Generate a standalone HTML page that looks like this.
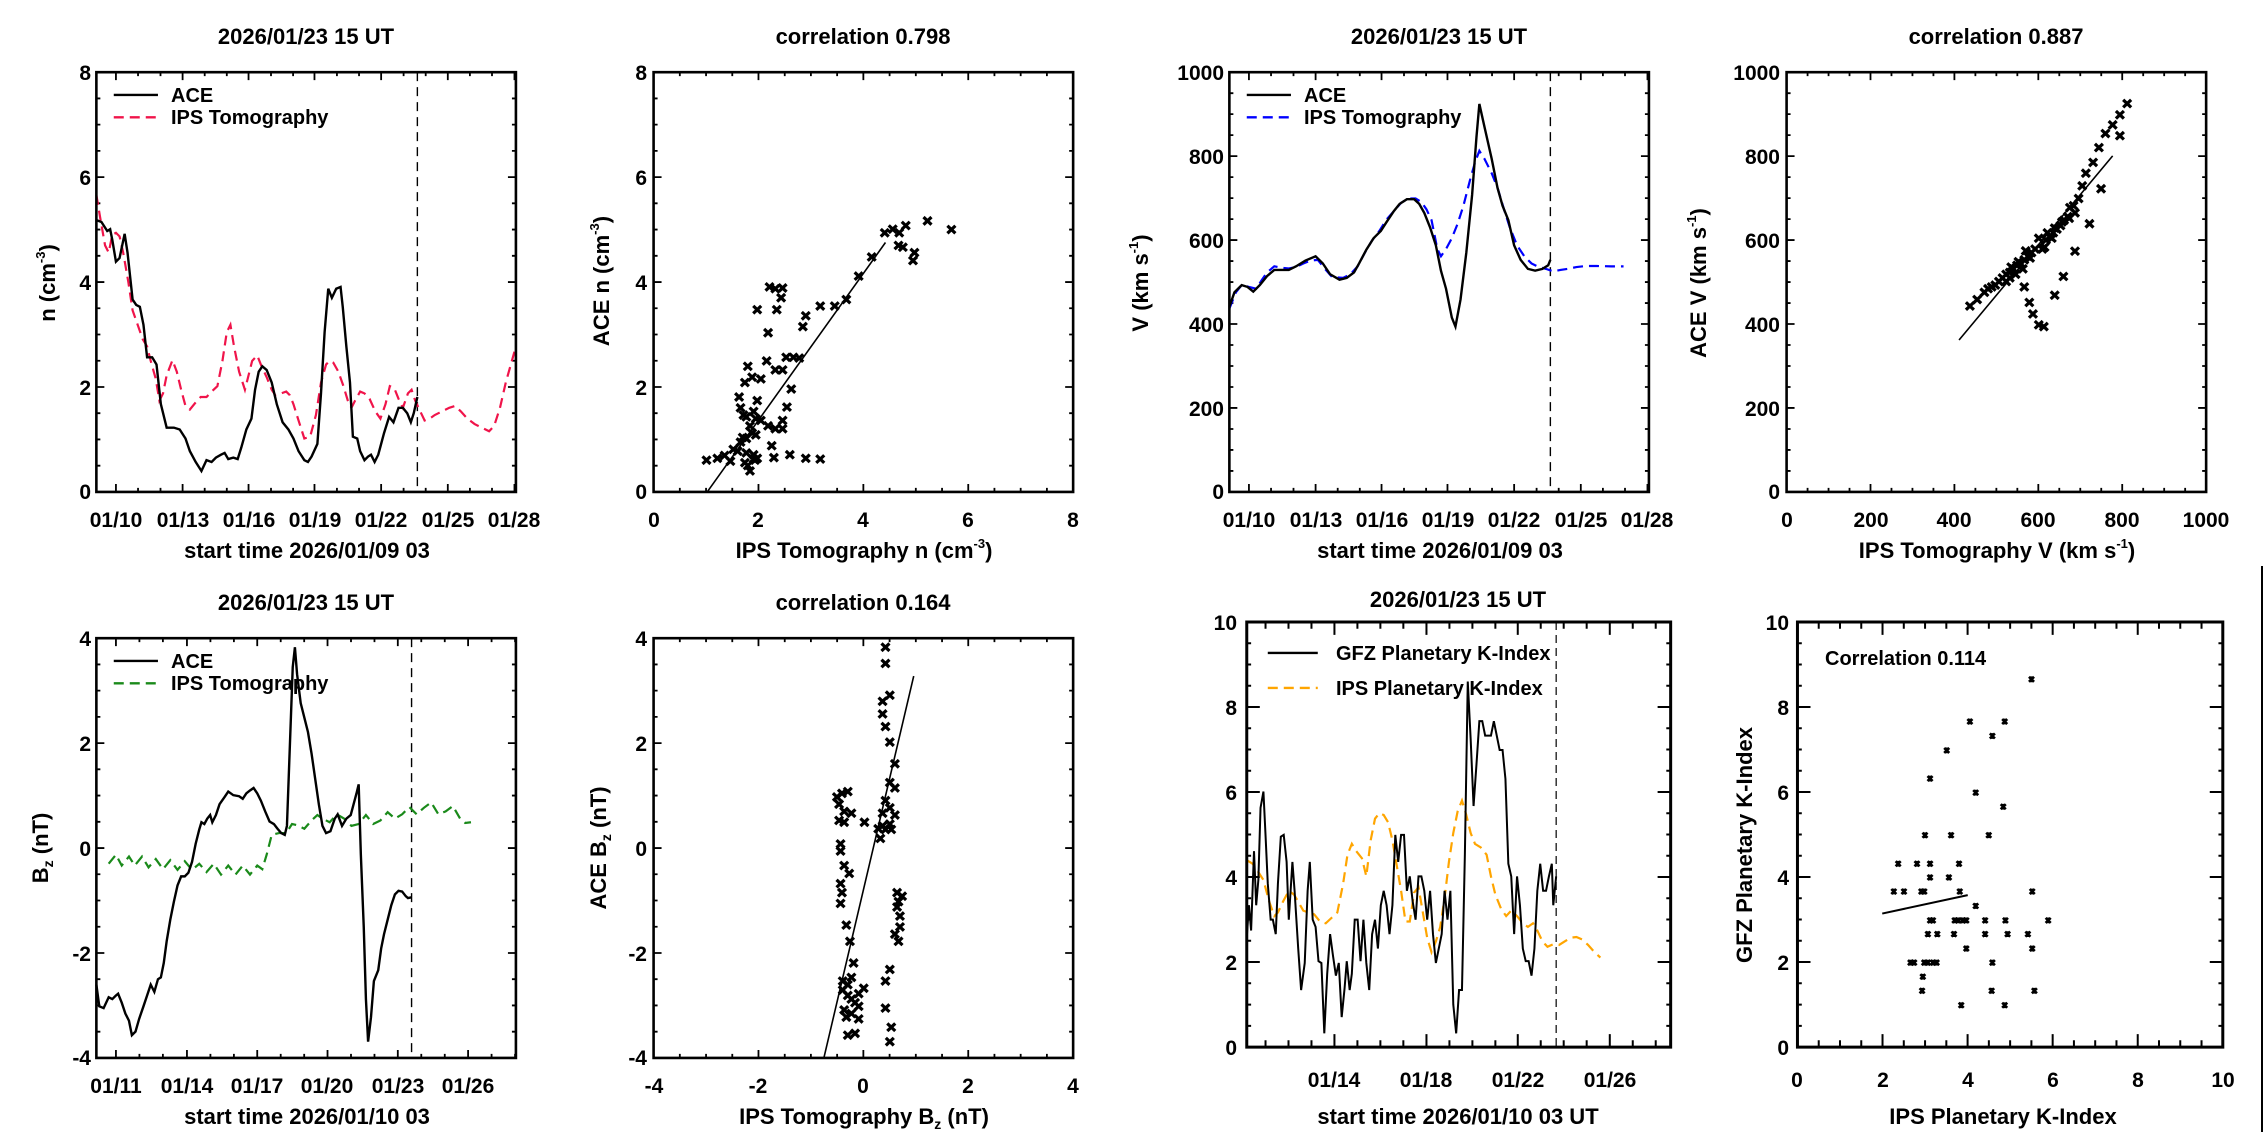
<!DOCTYPE html>
<html><head><meta charset="utf-8"><style>
html,body{margin:0;padding:0;background:#fff;}
svg{display:block;}
text{font-family:"Liberation Sans",Arial,sans-serif;font-weight:bold;fill:#000;}
.t{font-size:22px;text-anchor:middle;}
.tk{font-size:21px;text-anchor:middle;}
.yt{font-size:21px;text-anchor:end;}
.lg{font-size:20px;}
.yl{font-size:22px;text-anchor:middle;}
.ns{vector-effect:non-scaling-stroke;fill:none;}
</style></head><body>
<svg width="2266" height="1132" viewBox="0 0 2266 1132" xmlns="http://www.w3.org/2000/svg">
<defs>
<path id="m" d="M-5.5 -10.5L5.5 10.5M-5.5 10.5L5.5 -10.5M-3 0H3" class="ns" stroke="#000" stroke-width="3.2"/>
<path id="k" d="M-3.5 -7L3.5 7M-3.5 7L3.5 -7M0 -8V8" class="ns" stroke="#000" stroke-width="2.6"/>
</defs>

<!-- ============ Q1 (0,0) ============ -->
<g transform="translate(0,0) scale(0.7246,0.3609)">
 <path class="ns" stroke="#000" stroke-width="1.8" d="M160 1363v-22M252 1363v-22M343 1363v-22M434 1363v-22M526 1363v-22M618 1363v-22M710 1363v-22M160 200v22M252 200v22M343 200v22M434 200v22M526 200v22M618 200v22M710 200v22
 M190.5 1363v-11M221.5 1363v-11M282.5 1363v-11M313 1363v-11M374 1363v-11M404.5 1363v-11M465 1363v-11M495.5 1363v-11M557 1363v-11M587.5 1363v-11M648.5 1363v-11M679 1363v-11
 M190.5 200v11M221.5 200v11M282.5 200v11M313 200v11M374 200v11M404.5 200v11M465 200v11M495.5 200v11M557 200v11M587.5 200v11M648.5 200v11M679 200v11
 M133 490.8h11M133 781.5h11M133 1072.3h11M712 490.8h-11M712 781.5h-11M712 1072.3h-11
 M133 272.7h5.5M133 345.4h5.5M133 418.1h5.5M133 563.4h5.5M133 636.1h5.5M133 708.8h5.5M133 854.2h5.5M133 926.9h5.5M133 999.6h5.5M133 1144.9h5.5M133 1217.6h5.5M133 1290.3h5.5
 M712 272.7h-5.5M712 345.4h-5.5M712 418.1h-5.5M712 563.4h-5.5M712 636.1h-5.5M712 708.8h-5.5M712 854.2h-5.5M712 926.9h-5.5M712 999.6h-5.5M712 1144.9h-5.5M712 1217.6h-5.5M712 1290.3h-5.5"/>
 <path class="ns" stroke="#000" stroke-width="1.4" stroke-dasharray="9 6" d="M576 200V1363"/>
 <polyline class="ns" stroke="#f0144a" stroke-width="2.2" stroke-dasharray="10 6" points="133,540 138,600 145,680 150,700 155,650 160,645 165,655 170,700 177,780 183,860 190,900 197,940 203,960 208,1000 215,1050 220,1110 225,1090 230,1040 238,998 244,1030 250,1080 256,1125 262,1135 270,1115 277,1100 285,1100 292,1085 300,1070 307,1000 313,920 318,900 323,960 330,1030 338,1080 343,1040 348,1000 355,985 360,1010 368,1045 375,1080 380,1095 388,1090 395,1085 400,1095 405,1120 412,1165 420,1215 428,1210 436,1150 443,1060 450,1010 455,1000 460,1005 467,1030 474,1070 480,1110 485,1130 490,1110 497,1085 503,1090 510,1105 518,1140 525,1160 532,1120 538,1070 544,1075 550,1105 556,1130 563,1090 568,1080 573,1110 580,1140 586,1165 593,1160 600,1150 610,1140 620,1130 628,1125 636,1140 645,1160 655,1175 665,1185 675,1195 682,1180 690,1130 698,1060 705,1010 712,960"/>
 <polyline class="ns" stroke="#000" stroke-width="2.4" points="133,610 140,615 148,640 152,635 155,665 160,725 165,715 172,648 176,700 183,830 188,845 193,850 198,900 203,990 210,990 216,1010 222,1120 230,1185 240,1185 248,1190 256,1215 262,1250 270,1280 278,1305 285,1275 292,1280 298,1268 305,1260 310,1255 315,1272 322,1268 328,1272 333,1240 340,1190 347,1160 352,1080 357,1030 362,1015 368,1025 375,1060 382,1120 390,1170 398,1190 405,1215 412,1250 420,1275 425,1280 430,1265 438,1230 443,1090 448,920 453,800 458,825 464,800 470,795 473,850 478,960 483,1060 487,1210 493,1215 497,1250 503,1275 508,1265 512,1260 517,1280 522,1260 530,1200 537,1155 543,1170 550,1130 556,1130 562,1145 567,1170 571,1145 576,1100"/>
 <path class="ns" stroke="#000" stroke-width="2.4" d="M157 263H218"/>
 <path class="ns" stroke="#f0144a" stroke-width="2.4" stroke-dasharray="10 6" d="M157 325H218"/>
 <rect x="133" y="200" width="579" height="1163" class="ns" stroke="#000" stroke-width="2.6"/>

 <path class="ns" stroke="#000" stroke-width="1.8" d="M1046.75 1363v-22M1191.5 1363v-22M1336.25 1363v-22M1046.75 200v22M1191.5 200v22M1336.25 200v22
 M938.2 1363v-11M974.4 1363v-11M1010.6 1363v-11M1083 1363v-11M1119.1 1363v-11M1155.3 1363v-11M1227.7 1363v-11M1263.9 1363v-11M1300.1 1363v-11M1372.4 1363v-11M1408.6 1363v-11M1444.8 1363v-11
 M938.2 200v11M974.4 200v11M1010.6 200v11M1083 200v11M1119.1 200v11M1155.3 200v11M1227.7 200v11M1263.9 200v11M1300.1 200v11M1372.4 200v11M1408.6 200v11M1444.8 200v11
 M902 490.8h11M902 781.5h11M902 1072.3h11M1481 490.8h-11M1481 781.5h-11M1481 1072.3h-11
 M902 272.7h5.5M902 345.4h5.5M902 418.1h5.5M902 563.4h5.5M902 636.1h5.5M902 708.8h5.5M902 854.2h5.5M902 926.9h5.5M902 999.6h5.5M902 1144.9h5.5M902 1217.6h5.5M902 1290.3h5.5
 M1481 272.7h-5.5M1481 345.4h-5.5M1481 418.1h-5.5M1481 563.4h-5.5M1481 636.1h-5.5M1481 708.8h-5.5M1481 854.2h-5.5M1481 926.9h-5.5M1481 999.6h-5.5M1481 1144.9h-5.5M1481 1217.6h-5.5M1481 1290.3h-5.5"/>
 <path class="ns" stroke="#000" stroke-width="1.6" d="M976 1363L1222 672"/>
 <g>
 <use href="#m" x="1280" y="612"/><use href="#m" x="1313" y="636"/><use href="#m" x="1221" y="645"/><use href="#m" x="1232" y="635"/><use href="#m" x="1241" y="645"/><use href="#m" x="1250" y="625"/><use href="#m" x="1240" y="680"/><use href="#m" x="1246" y="685"/><use href="#m" x="1262" y="700"/><use href="#m" x="1260" y="722"/><use href="#m" x="1203" y="712"/><use href="#m" x="1185" y="765"/><use href="#m" x="1168" y="830"/><use href="#m" x="1152" y="848"/><use href="#m" x="1132" y="848"/><use href="#m" x="1112" y="875"/><use href="#m" x="1108" y="905"/><use href="#m" x="1062" y="795"/><use href="#m" x="1070" y="800"/><use href="#m" x="1080" y="798"/><use href="#m" x="1078" y="825"/><use href="#m" x="1045" y="858"/><use href="#m" x="1072" y="858"/><use href="#m" x="1060" y="922"/><use href="#m" x="1085" y="990"/><use href="#m" x="1095" y="990"/><use href="#m" x="1103" y="992"/><use href="#m" x="1058" y="1000"/><use href="#m" x="1070" y="1025"/><use href="#m" x="1080" y="1025"/><use href="#m" x="1032" y="1015"/><use href="#m" x="1038" y="1045"/><use href="#m" x="1050" y="1050"/><use href="#m" x="1028" y="1060"/><use href="#m" x="1092" y="1078"/><use href="#m" x="1045" y="1110"/><use href="#m" x="1020" y="1100"/><use href="#m" x="1022" y="1130"/><use href="#m" x="1026" y="1150"/><use href="#m" x="1030" y="1155"/><use href="#m" x="1040" y="1140"/><use href="#m" x="1043" y="1160"/><use href="#m" x="1050" y="1165"/><use href="#m" x="1080" y="1165"/><use href="#m" x="1086" y="1128"/><use href="#m" x="1035" y="1180"/><use href="#m" x="1060" y="1180"/><use href="#m" x="1070" y="1188"/><use href="#m" x="1080" y="1188"/><use href="#m" x="1038" y="1200"/><use href="#m" x="1043" y="1205"/><use href="#m" x="1025" y="1212"/><use href="#m" x="1030" y="1215"/><use href="#m" x="1022" y="1225"/><use href="#m" x="1065" y="1235"/><use href="#m" x="1012" y="1245"/><use href="#m" x="1018" y="1250"/><use href="#m" x="1030" y="1255"/><use href="#m" x="1040" y="1260"/><use href="#m" x="1045" y="1270"/><use href="#m" x="1000" y="1262"/><use href="#m" x="990" y="1270"/><use href="#m" x="975" y="1275"/><use href="#m" x="1008" y="1278"/><use href="#m" x="1028" y="1282"/><use href="#m" x="1035" y="1305"/><use href="#m" x="1040" y="1272"/><use href="#m" x="1068" y="1268"/><use href="#m" x="1090" y="1260"/><use href="#m" x="1112" y="1270"/><use href="#m" x="1132" y="1272"/><use href="#m" x="1032" y="1290"/><use href="#m" x="1042" y="1275"/>
 </g>
 <rect x="902" y="200" width="579" height="1163" class="ns" stroke="#000" stroke-width="2.6"/>
</g>

<!-- ============ Q3 (1133,0) ============ -->
<g transform="translate(1133,0) scale(0.7246,0.3609)">
 <path class="ns" stroke="#000" stroke-width="1.8" d="M160 1363v-22M252 1363v-22M343 1363v-22M434 1363v-22M526 1363v-22M618 1363v-22M710 1363v-22M160 200v22M252 200v22M343 200v22M434 200v22M526 200v22M618 200v22M710 200v22
 M190.5 1363v-11M221.5 1363v-11M282.5 1363v-11M313 1363v-11M374 1363v-11M404.5 1363v-11M465 1363v-11M495.5 1363v-11M557 1363v-11M587.5 1363v-11M648.5 1363v-11M679 1363v-11
 M190.5 200v11M221.5 200v11M282.5 200v11M313 200v11M374 200v11M404.5 200v11M465 200v11M495.5 200v11M557 200v11M587.5 200v11M648.5 200v11M679 200v11
 M133 432.6h11M133 665.2h11M133 897.8h11M133 1130.4h11M712 432.6h-11M712 665.2h-11M712 897.8h-11M712 1130.4h-11
 M133 258.2h5.5M133 316.3h5.5M133 374.5h5.5M133 490.8h5.5M133 548.9h5.5M133 607.1h5.5M133 723.4h5.5M133 781.5h5.5M133 839.7h5.5M133 956h5.5M133 1014.1h5.5M133 1072.3h5.5M133 1188.6h5.5M133 1246.7h5.5M133 1304.9h5.5
 M712 258.2h-5.5M712 316.3h-5.5M712 374.5h-5.5M712 490.8h-5.5M712 548.9h-5.5M712 607.1h-5.5M712 723.4h-5.5M712 781.5h-5.5M712 839.7h-5.5M712 956h-5.5M712 1014.1h-5.5M712 1072.3h-5.5M712 1188.6h-5.5M712 1246.7h-5.5M712 1304.9h-5.5"/>
 <path class="ns" stroke="#000" stroke-width="1.4" stroke-dasharray="9 6" d="M576 200V1363"/>
 <polyline class="ns" stroke="#0000ff" stroke-width="2.2" stroke-dasharray="10 6" points="133,855 142,810 150,790 160,795 170,800 178,775 185,755 195,738 205,742 215,744 225,740 235,730 245,722 255,720 265,745 275,768 290,770 300,760 310,738 320,700 330,666 340,640 350,608 360,585 370,562 380,550 390,550 398,560 405,580 412,610 420,690 425,710 432,690 440,660 448,620 456,570 465,500 472,450 478,418 485,440 495,480 503,520 512,580 520,630 530,680 540,710 550,730 560,740 570,745 580,752 590,748 600,745 612,740 625,737 640,737 660,738 677,738"/>
 <polyline class="ns" stroke="#000" stroke-width="2.4" points="133,850 140,810 150,790 158,795 166,808 175,790 185,765 195,748 205,748 215,748 225,738 238,722 252,710 262,730 272,760 285,775 295,770 305,755 312,730 322,692 332,660 342,640 350,615 360,585 368,565 378,552 388,552 395,565 402,590 410,630 418,680 425,750 432,800 440,880 445,905 452,830 460,700 468,540 474,380 478,288 486,360 495,440 503,520 510,570 518,610 526,680 535,720 545,745 555,750 565,745 573,735 576,720"/>
 <path class="ns" stroke="#000" stroke-width="2.4" d="M157 263H218"/>
 <path class="ns" stroke="#0000ff" stroke-width="2.4" stroke-dasharray="10 6" d="M157 325H218"/>
 <rect x="133" y="200" width="579" height="1163" class="ns" stroke="#000" stroke-width="2.6"/>

 <path class="ns" stroke="#000" stroke-width="1.8" d="M1017.8 1363v-22M1133.6 1363v-22M1249.4 1363v-22M1365.2 1363v-22M1017.8 200v22M1133.6 200v22M1249.4 200v22M1365.2 200v22
 M930.95 1363v-11M959.9 1363v-11M988.85 1363v-11M1046.75 1363v-11M1075.7 1363v-11M1104.65 1363v-11M1162.55 1363v-11M1191.5 1363v-11M1220.45 1363v-11M1278.35 1363v-11M1307.3 1363v-11M1336.25 1363v-11M1394.15 1363v-11M1423.1 1363v-11M1452.05 1363v-11
 M930.95 200v11M959.9 200v11M988.85 200v11M1046.75 200v11M1075.7 200v11M1104.65 200v11M1162.55 200v11M1191.5 200v11M1220.45 200v11M1278.35 200v11M1307.3 200v11M1336.25 200v11M1394.15 200v11M1423.1 200v11M1452.05 200v11
 M902 432.6h11M902 665.2h11M902 897.8h11M902 1130.4h11M1481 432.6h-11M1481 665.2h-11M1481 897.8h-11M1481 1130.4h-11
 M902 258.2h5.5M902 316.3h5.5M902 374.5h5.5M902 490.8h5.5M902 548.9h5.5M902 607.1h5.5M902 723.4h5.5M902 781.5h5.5M902 839.7h5.5M902 956h5.5M902 1014.1h5.5M902 1072.3h5.5M902 1188.6h5.5M902 1246.7h5.5M902 1304.9h5.5
 M1481 258.2h-5.5M1481 316.3h-5.5M1481 374.5h-5.5M1481 490.8h-5.5M1481 548.9h-5.5M1481 607.1h-5.5M1481 723.4h-5.5M1481 781.5h-5.5M1481 839.7h-5.5M1481 956h-5.5M1481 1014.1h-5.5M1481 1072.3h-5.5M1481 1188.6h-5.5M1481 1246.7h-5.5M1481 1304.9h-5.5"/>
 <path class="ns" stroke="#000" stroke-width="1.6" d="M1140 942L1352 432"/>
 <g>
 <use href="#m" x="1372" y="287"/><use href="#m" x="1362" y="318"/><use href="#m" x="1352" y="346"/><use href="#m" x="1362" y="376"/><use href="#m" x="1342" y="370"/><use href="#m" x="1333" y="409"/><use href="#m" x="1325" y="450"/><use href="#m" x="1315" y="480"/><use href="#m" x="1310" y="515"/><use href="#m" x="1336" y="523"/><use href="#m" x="1305" y="550"/><use href="#m" x="1298" y="570"/><use href="#m" x="1300" y="590"/><use href="#m" x="1293" y="575"/><use href="#m" x="1290" y="600"/><use href="#m" x="1285" y="610"/><use href="#m" x="1280" y="625"/><use href="#m" x="1275" y="635"/><use href="#m" x="1270" y="645"/><use href="#m" x="1265" y="655"/><use href="#m" x="1260" y="665"/><use href="#m" x="1250" y="660"/><use href="#m" x="1255" y="690"/><use href="#m" x="1245" y="690"/><use href="#m" x="1240" y="700"/><use href="#m" x="1235" y="710"/><use href="#m" x="1230" y="720"/><use href="#m" x="1225" y="730"/><use href="#m" x="1220" y="735"/><use href="#m" x="1215" y="745"/><use href="#m" x="1210" y="755"/><use href="#m" x="1205" y="760"/><use href="#m" x="1200" y="770"/><use href="#m" x="1195" y="780"/><use href="#m" x="1190" y="790"/><use href="#m" x="1185" y="795"/><use href="#m" x="1180" y="800"/><use href="#m" x="1175" y="810"/><use href="#m" x="1165" y="830"/><use href="#m" x="1155" y="848"/><use href="#m" x="1320" y="620"/><use href="#m" x="1300" y="696"/><use href="#m" x="1284" y="766"/><use href="#m" x="1272" y="818"/><use href="#m" x="1230" y="795"/><use href="#m" x="1237" y="838"/><use href="#m" x="1242" y="870"/><use href="#m" x="1250" y="900"/><use href="#m" x="1257" y="905"/><use href="#m" x="1238" y="715"/><use href="#m" x="1228" y="745"/><use href="#m" x="1218" y="760"/><use href="#m" x="1212" y="740"/><use href="#m" x="1222" y="725"/><use href="#m" x="1232" y="695"/><use href="#m" x="1262" y="645"/><use href="#m" x="1272" y="632"/><use href="#m" x="1282" y="615"/><use href="#m" x="1292" y="605"/><use href="#m" x="1268" y="660"/><use href="#m" x="1258" y="685"/><use href="#m" x="1205" y="780"/><use href="#m" x="1210" y="770"/>
 </g>
 <rect x="902" y="200" width="579" height="1163" class="ns" stroke="#000" stroke-width="2.6"/>
</g>

<!-- ============ Q4 (0,566) ============ -->
<g transform="translate(0,566) scale(0.7246,0.3609)">
 <path class="ns" stroke="#000" stroke-width="1.8" d="M160 1363v-22M258 1363v-22M355 1363v-22M452 1363v-22M549 1363v-22M646 1363v-22M160 200v22M258 200v22M355 200v22M452 200v22M549 200v22M646 200v22
 M192.4 1363v-11M224.8 1363v-11M290.4 1363v-11M322.8 1363v-11M387.4 1363v-11M419.8 1363v-11M484.4 1363v-11M516.8 1363v-11M581.4 1363v-11M613.8 1363v-11M678.4 1363v-11M710.8 1363v-11
 M192.4 200v11M224.8 200v11M290.4 200v11M322.8 200v11M387.4 200v11M419.8 200v11M484.4 200v11M516.8 200v11M581.4 200v11M613.8 200v11M678.4 200v11M710.8 200v11
 M133 490.8h11M133 781.5h11M133 1072.3h11M712 490.8h-11M712 781.5h-11M712 1072.3h-11
 M133 272.7h5.5M133 345.4h5.5M133 418.1h5.5M133 563.4h5.5M133 636.1h5.5M133 708.8h5.5M133 854.2h5.5M133 926.9h5.5M133 999.6h5.5M133 1144.9h5.5M133 1217.6h5.5M133 1290.3h5.5
 M712 272.7h-5.5M712 345.4h-5.5M712 418.1h-5.5M712 563.4h-5.5M712 636.1h-5.5M712 708.8h-5.5M712 854.2h-5.5M712 926.9h-5.5M712 999.6h-5.5M712 1144.9h-5.5M712 1217.6h-5.5M712 1290.3h-5.5"/>
 <path class="ns" stroke="#000" stroke-width="1.4" stroke-dasharray="9 6" d="M568 200V1363"/>
 <polyline class="ns" stroke="#1a8a1a" stroke-width="2.2" stroke-dasharray="10 6" points="150,825 160,800 168,830 178,805 186,830 196,805 205,835 215,812 225,840 235,815 245,842 255,818 265,842 275,825 285,848 295,825 305,855 315,830 325,855 335,830 345,855 355,830 362,840 368,800 375,745 385,740 395,740 403,715 410,718 420,728 430,705 438,690 445,700 455,710 465,688 475,700 485,720 495,715 505,690 515,715 525,705 535,682 545,700 555,688 565,668 575,688 585,670 595,655 605,688 615,680 625,665 635,700 642,712 650,710"/>
 <polyline class="ns" stroke="#000" stroke-width="2.4" points="133,1160 137,1220 143,1225 150,1195 155,1200 160,1190 163,1185 168,1210 173,1240 178,1260 182,1300 187,1290 192,1255 198,1220 203,1190 208,1160 213,1180 218,1145 222,1140 226,1100 230,1040 235,980 240,930 245,885 250,860 255,860 260,850 265,820 270,770 275,730 278,710 282,715 286,700 290,690 293,710 298,690 303,660 310,640 315,625 322,635 330,638 335,645 340,630 345,622 350,615 355,630 360,650 366,680 372,708 378,715 383,728 388,740 393,745 396,720 400,500 404,280 407,225 410,300 415,380 420,420 425,460 430,520 435,590 440,660 445,720 450,740 456,735 462,700 466,688 472,720 478,700 484,690 488,660 492,630 495,605 498,800 502,1000 505,1200 508,1318 512,1250 516,1150 522,1120 526,1060 530,1020 535,980 540,940 545,910 550,900 555,902 560,915 563,920 568,918"/>
 <path class="ns" stroke="#000" stroke-width="2.4" d="M157 263H218"/>
 <path class="ns" stroke="#1a8a1a" stroke-width="2.4" stroke-dasharray="10 6" d="M157 325H218"/>
 <rect x="133" y="200" width="579" height="1163" class="ns" stroke="#000" stroke-width="2.6"/>

 <path class="ns" stroke="#000" stroke-width="1.8" d="M1046.75 1363v-22M1191.5 1363v-22M1336.25 1363v-22M1046.75 200v22M1191.5 200v22M1336.25 200v22
 M938.2 1363v-11M974.4 1363v-11M1010.6 1363v-11M1083 1363v-11M1119.1 1363v-11M1155.3 1363v-11M1227.7 1363v-11M1263.9 1363v-11M1300.1 1363v-11M1372.4 1363v-11M1408.6 1363v-11M1444.8 1363v-11
 M938.2 200v11M974.4 200v11M1010.6 200v11M1083 200v11M1119.1 200v11M1155.3 200v11M1227.7 200v11M1263.9 200v11M1300.1 200v11M1372.4 200v11M1408.6 200v11M1444.8 200v11
 M902 490.8h11M902 781.5h11M902 1072.3h11M1481 490.8h-11M1481 781.5h-11M1481 1072.3h-11
 M902 272.7h5.5M902 345.4h5.5M902 418.1h5.5M902 563.4h5.5M902 636.1h5.5M902 708.8h5.5M902 854.2h5.5M902 926.9h5.5M902 999.6h5.5M902 1144.9h5.5M902 1217.6h5.5M902 1290.3h5.5
 M1481 272.7h-5.5M1481 345.4h-5.5M1481 418.1h-5.5M1481 563.4h-5.5M1481 636.1h-5.5M1481 708.8h-5.5M1481 854.2h-5.5M1481 926.9h-5.5M1481 999.6h-5.5M1481 1144.9h-5.5M1481 1217.6h-5.5M1481 1290.3h-5.5"/>
 <path class="ns" stroke="#000" stroke-width="1.6" d="M1137 1363L1261 305"/>
 <g>
 <use href="#m" x="1222" y="225"/><use href="#m" x="1222" y="270"/><use href="#m" x="1228" y="358"/><use href="#m" x="1218" y="375"/><use href="#m" x="1218" y="410"/><use href="#m" x="1222" y="445"/><use href="#m" x="1228" y="488"/><use href="#m" x="1235" y="548"/><use href="#m" x="1228" y="600"/><use href="#m" x="1235" y="615"/><use href="#m" x="1222" y="650"/><use href="#m" x="1228" y="670"/><use href="#m" x="1218" y="685"/><use href="#m" x="1235" y="690"/><use href="#m" x="1228" y="715"/><use href="#m" x="1218" y="720"/><use href="#m" x="1212" y="728"/><use href="#m" x="1222" y="730"/><use href="#m" x="1230" y="730"/><use href="#m" x="1215" y="755"/><use href="#m" x="1193" y="710"/><use href="#m" x="1155" y="640"/><use href="#m" x="1162" y="630"/><use href="#m" x="1170" y="625"/><use href="#m" x="1158" y="660"/><use href="#m" x="1165" y="680"/><use href="#m" x="1158" y="705"/><use href="#m" x="1175" y="685"/><use href="#m" x="1165" y="710"/><use href="#m" x="1160" y="770"/><use href="#m" x="1160" y="790"/><use href="#m" x="1165" y="830"/><use href="#m" x="1172" y="852"/><use href="#m" x="1160" y="880"/><use href="#m" x="1162" y="905"/><use href="#m" x="1160" y="935"/><use href="#m" x="1168" y="995"/><use href="#m" x="1173" y="1040"/><use href="#m" x="1238" y="905"/><use href="#m" x="1245" y="915"/><use href="#m" x="1240" y="930"/><use href="#m" x="1238" y="945"/><use href="#m" x="1242" y="970"/><use href="#m" x="1242" y="1000"/><use href="#m" x="1235" y="1020"/><use href="#m" x="1240" y="1040"/><use href="#m" x="1178" y="1100"/><use href="#m" x="1175" y="1140"/><use href="#m" x="1163" y="1150"/><use href="#m" x="1170" y="1160"/><use href="#m" x="1163" y="1175"/><use href="#m" x="1170" y="1190"/><use href="#m" x="1185" y="1185"/><use href="#m" x="1175" y="1200"/><use href="#m" x="1180" y="1210"/><use href="#m" x="1185" y="1220"/><use href="#m" x="1192" y="1170"/><use href="#m" x="1165" y="1230"/><use href="#m" x="1175" y="1240"/><use href="#m" x="1185" y="1255"/><use href="#m" x="1170" y="1300"/><use href="#m" x="1180" y="1295"/><use href="#m" x="1228" y="1118"/><use href="#m" x="1222" y="1150"/><use href="#m" x="1222" y="1225"/><use href="#m" x="1230" y="1278"/><use href="#m" x="1228" y="1318"/><use href="#m" x="1168" y="1250"/>
 </g>
 <rect x="902" y="200" width="579" height="1163" class="ns" stroke="#000" stroke-width="2.6"/>
</g>

<!-- ============ Q2 (1133,566) ============ -->
<g transform="translate(1133,566) scale(0.7246,0.3609)">
 <path class="ns" stroke="#000" stroke-width="2" d="M278 1333v-36M405 1333v-36M531 1333v-36M658 1333v-36M278 155v36M405 155v36M531 155v36M658 155v36
 M182.9 1333v-19M214.6 1333v-19M246.3 1333v-19M309.7 1333v-19M341.4 1333v-19M373.1 1333v-19M436.7 1333v-19M468.4 1333v-19M500.1 1333v-19M562.7 1333v-19M594.4 1333v-19M626.1 1333v-19M689.7 1333v-19M721.4 1333v-19
 M182.9 155v19M214.6 155v19M246.3 155v19M309.7 155v19M341.4 155v19M373.1 155v19M436.7 155v19M468.4 155v19M500.1 155v19M562.7 155v19M594.4 155v19M626.1 155v19M689.7 155v19M721.4 155v19
 M157 390.6h18M157 626.2h18M157 861.8h18M157 1097.4h18M742 390.6h-18M742 626.2h-18M742 861.8h-18M742 1097.4h-18
 M157 213.9h6M157 272.8h6M157 331.7h6M157 449.5h6M157 508.4h6M157 567.3h6M157 685.1h6M157 744h6M157 802.9h6M157 920.7h6M157 979.6h6M157 1038.5h6M157 1156.3h6M157 1215.2h6M157 1274.1h6
 M742 213.9h-6M742 272.8h-6M742 331.7h-6M742 449.5h-6M742 508.4h-6M742 567.3h-6M742 685.1h-6M742 744h-6M742 802.9h-6M742 920.7h-6M742 979.6h-6M742 1038.5h-6M742 1156.3h-6M742 1215.2h-6M742 1274.1h-6"/>
 <path class="ns" stroke="#000" stroke-width="1.2" stroke-dasharray="8 5" d="M584 155V1333"/>
 <polyline class="ns" stroke="#ffa500" stroke-width="2.2" stroke-dasharray="10 6" points="157,815 165,825 172,845 180,870 188,930 195,970 200,960 207,930 215,900 222,910 228,930 235,955 242,960 250,965 258,985 266,990 274,975 282,960 290,880 296,800 302,770 308,790 316,810 322,860 328,760 334,700 340,685 346,690 352,710 358,760 364,830 370,900 376,985 382,985 388,905 394,890 400,960 406,1030 412,1070 418,1040 424,1000 430,920 436,820 442,740 448,680 454,650 460,690 466,740 472,770 480,780 488,800 494,860 500,910 508,950 515,970 522,955 530,970 538,990 545,1000 552,990 558,1010 565,1040 572,1055 580,1048 588,1050 596,1040 604,1030 612,1028 620,1035 628,1050 636,1068 645,1085"/>
 <polyline class="ns" stroke="#000" stroke-width="2" points="157,1030 160,940 163,1010 167,790 170,940 173,870 176,670 180,625 183,750 186,880 190,980 193,980 197,1020 200,880 204,750 208,745 212,820 215,980 220,820 223,900 228,1060 232,1175 237,1100 241,900 244,820 248,980 252,1000 256,1095 260,1100 264,1295 268,1130 272,1020 276,1080 280,1135 284,1100 288,1250 292,1170 295,1095 299,1175 302,1130 306,980 310,980 314,1095 318,980 322,1100 326,1175 330,1020 334,980 338,1060 342,940 346,900 350,940 354,1020 358,940 362,745 366,820 370,745 374,745 378,900 382,860 386,930 390,980 394,860 398,860 402,900 406,980 410,900 414,1020 418,1100 422,1060 426,1020 430,900 434,980 438,900 442,1215 446,1295 450,1175 454,1175 458,800 462,320 466,480 470,665 474,550 478,430 482,430 486,470 490,470 494,470 498,430 502,470 506,510 510,510 514,590 518,825 522,860 526,1020 530,860 534,940 538,1060 542,1095 546,1095 550,1135 554,1060 558,900 562,825 566,900 570,900 574,860 578,825 580,940 584,860"/>
 <path class="ns" stroke="#000" stroke-width="2.4" d="M186 241H255"/>
 <path class="ns" stroke="#ffa500" stroke-width="2.4" stroke-dasharray="10 6" d="M186 338H255"/>
 <rect x="157" y="155" width="585" height="1178" class="ns" stroke="#000" stroke-width="3"/>

 <path class="ns" stroke="#000" stroke-width="2" d="M1034.4 1333v-36M1151.8 1333v-36M1269.2 1333v-36M1386.6 1333v-36M1034.4 155v36M1151.8 155v36M1269.2 155v36M1386.6 155v36
 M946.35 1333v-19M975.7 1333v-19M1005.05 1333v-19M1063.75 1333v-19M1093.1 1333v-19M1122.45 1333v-19M1181.15 1333v-19M1210.5 1333v-19M1239.85 1333v-19M1298.55 1333v-19M1327.9 1333v-19M1357.25 1333v-19M1415.95 1333v-19M1445.3 1333v-19M1474.65 1333v-19
 M946.35 155v19M975.7 155v19M1005.05 155v19M1063.75 155v19M1093.1 155v19M1122.45 155v19M1181.15 155v19M1210.5 155v19M1239.85 155v19M1298.55 155v19M1327.9 155v19M1357.25 155v19M1415.95 155v19M1445.3 155v19M1474.65 155v19
 M917 390.6h18M917 626.2h18M917 861.8h18M917 1097.4h18M1504 390.6h-18M1504 626.2h-18M1504 861.8h-18M1504 1097.4h-18
 M917 213.9h6M917 272.8h6M917 331.7h6M917 449.5h6M917 508.4h6M917 567.3h6M917 685.1h6M917 744h6M917 802.9h6M917 920.7h6M917 979.6h6M917 1038.5h6M917 1156.3h6M917 1215.2h6M917 1274.1h6
 M1504 213.9h-6M1504 272.8h-6M1504 331.7h-6M1504 449.5h-6M1504 508.4h-6M1504 567.3h-6M1504 685.1h-6M1504 744h-6M1504 802.9h-6M1504 920.7h-6M1504 979.6h-6M1504 1038.5h-6M1504 1156.3h-6M1504 1215.2h-6M1504 1274.1h-6"/>
 <path class="ns" stroke="#000" stroke-width="2" d="M1034 963L1152 912"/>
 <g>
 <use href="#k" x="1240" y="314"/><use href="#k" x="1155" y="431"/><use href="#k" x="1203" y="431"/><use href="#k" x="1186" y="471"/><use href="#k" x="1123" y="511"/><use href="#k" x="1100" y="589"/><use href="#k" x="1163" y="628"/><use href="#k" x="1201" y="667"/><use href="#k" x="1093" y="746"/><use href="#k" x="1129" y="746"/><use href="#k" x="1181" y="746"/><use href="#k" x="1056" y="825"/><use href="#k" x="1082" y="825"/><use href="#k" x="1100" y="825"/><use href="#k" x="1140" y="825"/><use href="#k" x="1100" y="863"/><use href="#k" x="1126" y="863"/><use href="#k" x="1050" y="902"/><use href="#k" x="1064" y="902"/><use href="#k" x="1088" y="902"/><use href="#k" x="1092" y="902"/><use href="#k" x="1141" y="902"/><use href="#k" x="1241" y="902"/><use href="#k" x="1163" y="942"/><use href="#k" x="1100" y="982"/><use href="#k" x="1104" y="982"/><use href="#k" x="1134" y="982"/><use href="#k" x="1139" y="982"/><use href="#k" x="1145" y="982"/><use href="#k" x="1150" y="982"/><use href="#k" x="1176" y="982"/><use href="#k" x="1204" y="982"/><use href="#k" x="1263" y="982"/><use href="#k" x="1097" y="1020"/><use href="#k" x="1110" y="1020"/><use href="#k" x="1133" y="1020"/><use href="#k" x="1176" y="1020"/><use href="#k" x="1207" y="1020"/><use href="#k" x="1235" y="1020"/><use href="#k" x="1150" y="1060"/><use href="#k" x="1241" y="1060"/><use href="#k" x="1073" y="1099"/><use href="#k" x="1078" y="1099"/><use href="#k" x="1092" y="1099"/><use href="#k" x="1097" y="1099"/><use href="#k" x="1104" y="1099"/><use href="#k" x="1109" y="1099"/><use href="#k" x="1186" y="1099"/><use href="#k" x="1090" y="1138"/><use href="#k" x="1089" y="1177"/><use href="#k" x="1185" y="1177"/><use href="#k" x="1244" y="1177"/><use href="#k" x="1143" y="1217"/><use href="#k" x="1203" y="1217"/>
 </g>
 <rect x="917" y="155" width="587" height="1178" class="ns" stroke="#000" stroke-width="3"/>
</g>
<path d="M2262 566V1132" stroke="#000" stroke-width="2"/>

<!-- ============ TEXT ============ -->
<text class="t" x="306" y="44">2026/01/23 15 UT</text>
<text class="t" x="863" y="44">correlation 0.798</text>
<text class="t" x="1439" y="44">2026/01/23 15 UT</text>
<text class="t" x="1996" y="44">correlation 0.887</text>
<text class="t" x="306" y="610">2026/01/23 15 UT</text>
<text class="t" x="863" y="610">correlation 0.164</text>
<text class="t" x="1458" y="607">2026/01/23 15 UT</text>

<text class="lg" x="171" y="102">ACE</text>
<text class="lg" x="171" y="124">IPS Tomography</text>
<text class="lg" x="1304" y="102">ACE</text>
<text class="lg" x="1304" y="124">IPS Tomography</text>
<text class="lg" x="171" y="668">ACE</text>
<text class="lg" x="171" y="690">IPS Tomography</text>
<text class="lg" x="1336" y="660">GFZ Planetary K-Index</text>
<text class="lg" x="1336" y="695">IPS Planetary K-Index</text>
<text class="lg" x="1825" y="665">Correlation 0.114</text>

<text class="tk" x="116" y="527">01/10</text><text class="tk" x="183" y="527">01/13</text><text class="tk" x="249" y="527">01/16</text><text class="tk" x="315" y="527">01/19</text><text class="tk" x="381" y="527">01/22</text><text class="tk" x="448" y="527">01/25</text><text class="tk" x="514" y="527">01/28</text>
<text class="tk" x="654" y="527">0</text><text class="tk" x="758" y="527">2</text><text class="tk" x="863" y="527">4</text><text class="tk" x="968" y="527">6</text><text class="tk" x="1073" y="527">8</text>
<text class="tk" x="1249" y="527">01/10</text><text class="tk" x="1316" y="527">01/13</text><text class="tk" x="1382" y="527">01/16</text><text class="tk" x="1448" y="527">01/19</text><text class="tk" x="1514" y="527">01/22</text><text class="tk" x="1581" y="527">01/25</text><text class="tk" x="1647" y="527">01/28</text>
<text class="tk" x="1787" y="527">0</text><text class="tk" x="1871" y="527">200</text><text class="tk" x="1954" y="527">400</text><text class="tk" x="2038" y="527">600</text><text class="tk" x="2122" y="527">800</text><text class="tk" x="2206" y="527">1000</text>
<text class="tk" x="116" y="1093">01/11</text><text class="tk" x="187" y="1093">01/14</text><text class="tk" x="257" y="1093">01/17</text><text class="tk" x="327" y="1093">01/20</text><text class="tk" x="398" y="1093">01/23</text><text class="tk" x="468" y="1093">01/26</text>
<text class="tk" x="654" y="1093">-4</text><text class="tk" x="758" y="1093">-2</text><text class="tk" x="863" y="1093">0</text><text class="tk" x="968" y="1093">2</text><text class="tk" x="1073" y="1093">4</text>
<text class="tk" x="1334" y="1087">01/14</text><text class="tk" x="1426" y="1087">01/18</text><text class="tk" x="1518" y="1087">01/22</text><text class="tk" x="1610" y="1087">01/26</text>
<text class="tk" x="1797" y="1087">0</text><text class="tk" x="1883" y="1087">2</text><text class="tk" x="1968" y="1087">4</text><text class="tk" x="2053" y="1087">6</text><text class="tk" x="2138" y="1087">8</text><text class="tk" x="2223" y="1087">10</text>

<text class="yt" x="91" y="80">8</text><text class="yt" x="91" y="185">6</text><text class="yt" x="91" y="290">4</text><text class="yt" x="91" y="395">2</text><text class="yt" x="91" y="499">0</text>
<text class="yt" x="647" y="80">8</text><text class="yt" x="647" y="185">6</text><text class="yt" x="647" y="290">4</text><text class="yt" x="647" y="395">2</text><text class="yt" x="647" y="499">0</text>
<text class="yt" x="1224" y="80">1000</text><text class="yt" x="1224" y="164">800</text><text class="yt" x="1224" y="248">600</text><text class="yt" x="1224" y="332">400</text><text class="yt" x="1224" y="416">200</text><text class="yt" x="1224" y="499">0</text>
<text class="yt" x="1780" y="80">1000</text><text class="yt" x="1780" y="164">800</text><text class="yt" x="1780" y="248">600</text><text class="yt" x="1780" y="332">400</text><text class="yt" x="1780" y="416">200</text><text class="yt" x="1780" y="499">0</text>
<text class="yt" x="91" y="646">4</text><text class="yt" x="91" y="751">2</text><text class="yt" x="91" y="856">0</text><text class="yt" x="91" y="961">-2</text><text class="yt" x="91" y="1065">-4</text>
<text class="yt" x="647" y="646">4</text><text class="yt" x="647" y="751">2</text><text class="yt" x="647" y="856">0</text><text class="yt" x="647" y="961">-2</text><text class="yt" x="647" y="1065">-4</text>
<text class="yt" x="1237" y="630">10</text><text class="yt" x="1237" y="715">8</text><text class="yt" x="1237" y="800">6</text><text class="yt" x="1237" y="885">4</text><text class="yt" x="1237" y="970">2</text><text class="yt" x="1237" y="1055">0</text>
<text class="yt" x="1789" y="630">10</text><text class="yt" x="1789" y="715">8</text><text class="yt" x="1789" y="800">6</text><text class="yt" x="1789" y="885">4</text><text class="yt" x="1789" y="970">2</text><text class="yt" x="1789" y="1055">0</text>

<text class="t" x="307" y="558">start time 2026/01/09 03</text>
<text class="t" x="864" y="558">IPS Tomography n (cm<tspan font-size="13" dy="-10">-3</tspan><tspan dy="10">)</tspan></text>
<text class="t" x="1440" y="558">start time 2026/01/09 03</text>
<text class="t" x="1997" y="558">IPS Tomography V (km s<tspan font-size="13" dy="-10">-1</tspan><tspan dy="10">)</tspan></text>
<text class="t" x="307" y="1124">start time 2026/01/10 03</text>
<text class="t" x="864" y="1124">IPS Tomography B<tspan font-size="14" dy="5">z</tspan><tspan dy="-5"> (nT)</tspan></text>
<text class="t" x="1458" y="1124">start time 2026/01/10 03 UT</text>
<text class="t" x="2003" y="1124">IPS Planetary K-Index</text>

<text class="yl" transform="translate(55,283) rotate(-90)">n (cm<tspan font-size="13" dy="-10">-3</tspan><tspan dy="10">)</tspan></text>
<text class="yl" transform="translate(609,281) rotate(-90)">ACE n (cm<tspan font-size="13" dy="-10">-3</tspan><tspan dy="10">)</tspan></text>
<text class="yl" transform="translate(1148,283) rotate(-90)">V (km s<tspan font-size="13" dy="-10">-1</tspan><tspan dy="10">)</tspan></text>
<text class="yl" transform="translate(1706,283) rotate(-90)">ACE V (km s<tspan font-size="13" dy="-10">-1</tspan><tspan dy="10">)</tspan></text>
<text class="yl" transform="translate(48,848) rotate(-90)">B<tspan font-size="14" dy="5">z</tspan><tspan dy="-5"> (nT)</tspan></text>
<text class="yl" transform="translate(606,848) rotate(-90)">ACE B<tspan font-size="14" dy="5">z</tspan><tspan dy="-5"> (nT)</tspan></text>
<text class="yl" transform="translate(1752,845) rotate(-90)">GFZ Planetary K-Index</text>
</svg>
</body></html>
